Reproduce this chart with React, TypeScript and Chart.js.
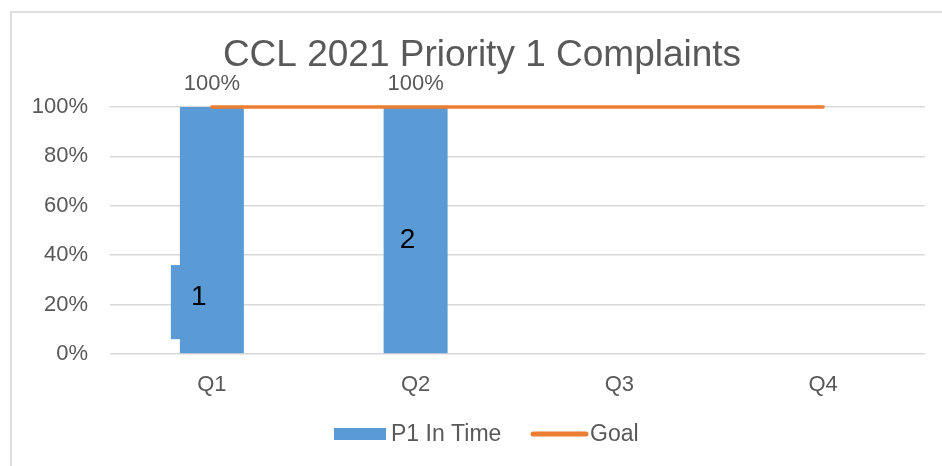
import React, { useEffect, useRef } from 'react';
import { Chart, registerables } from 'chart.js';

Chart.register(...registerables);

const categories = ['Q1', 'Q2', 'Q3', 'Q4'];
const inTimePct: (number | null)[] = [100, 100, null, null];
const goalPct = [100, 100, 100, 100];
const valueLabels: (string | null)[] = ['100%', '100%', null, null];
const countLabels: (string | null)[] = ['1', '2', null, null];
const countLabelY: (number | null)[] = [23, 46, null, null];
const countBoxTop = 36;
const countBoxBottom = 6;
const titleText = 'CCL 2021 Priority 1 Complaints';
const seriesNames = ['P1 In Time', 'Goal'];

const BLUE = '#5B9BD5';
const ORANGE = '#ED7D31';
const GREY = '#595959';
const FONT = '"Liberation Sans", Arial, sans-serif';

const overlayPlugin = {
  id: 'overlay',
  afterDatasetsDraw(chart: any) {
    const ctx = chart.ctx as CanvasRenderingContext2D;
    const y = chart.scales.y;
    const barMeta = chart.getDatasetMeta(1);
    ctx.save();
    // value labels above bars
    ctx.fillStyle = GREY;
    ctx.font = `22px ${FONT}`;
    ctx.textAlign = 'center';
    ctx.textBaseline = 'alphabetic';
    barMeta.data.forEach((el: any, i: number) => {
      const lbl = valueLabels[i];
      if (lbl && inTimePct[i] != null) ctx.fillText(lbl, el.x, el.y - 17);
    });
    // count text boxes
    countLabels.forEach((lbl, i) => {
      const v = countLabelY[i];
      if (!lbl || v == null) return;
      const el = barMeta.data[i];
      const offset = i === 0 ? -13 : -8;
      const cx = el.x + offset;
      if (i === 0) {
        const t = y.getPixelForValue(countBoxTop);
        const b = y.getPixelForValue(countBoxBottom);
        ctx.fillStyle = BLUE;
        ctx.fillRect(cx - 28, t, 56, b - t);
      }
      ctx.fillStyle = '#000000';
      ctx.font = `28px ${FONT}`;
      ctx.textAlign = 'center';
      ctx.textBaseline = 'middle';
      ctx.fillText(lbl, cx, y.getPixelForValue(v));
    });
    ctx.restore();
  },
  afterDraw(chart: any) {
    const ctx = chart.ctx as CanvasRenderingContext2D;
    ctx.save();
    // title
    ctx.fillStyle = GREY;
    ctx.font = `37px ${FONT}`;
    ctx.textAlign = 'center';
    ctx.textBaseline = 'alphabetic';
    ctx.fillText(titleText, 482, 66);
    // legend
    const ly = 434;
    ctx.fillStyle = chart.data.datasets[1].backgroundColor;
    ctx.fillRect(334, ly - 6, 52, 12);
    ctx.fillStyle = GREY;
    ctx.font = `23px ${FONT}`;
    ctx.textAlign = 'left';
    ctx.textBaseline = 'middle';
    ctx.fillText(seriesNames[0], 391, ly + 1);
    ctx.strokeStyle = chart.data.datasets[0].borderColor;
    ctx.lineWidth = 5;
    ctx.lineCap = 'round';
    ctx.beginPath();
    ctx.moveTo(533, ly);
    ctx.lineTo(586, ly);
    ctx.stroke();
    ctx.fillText(seriesNames[1], 590, ly + 1);
    ctx.restore();
  },
};

export default function App() {
  const ref = useRef<HTMLCanvasElement | null>(null);
  useEffect(() => {
    if (!ref.current) return;
    const chart = new Chart(ref.current, {
      type: 'bar',
      data: {
        labels: categories,
        datasets: [
          {
            type: 'line',
            label: seriesNames[1],
            data: goalPct,
            borderColor: ORANGE,
            backgroundColor: ORANGE,
            borderWidth: 3.5,
            borderCapStyle: 'round',
            pointRadius: 0,
            clip: false,
            order: 1,
          } as any,
          {
            type: 'bar',
            label: seriesNames[0],
            data: inTimePct,
            backgroundColor: BLUE,
            borderWidth: 0,
            barPercentage: 0.314,
            categoryPercentage: 1,
            order: 2,
          } as any,
        ],
      },
      options: {
        responsive: false,
        animation: false,
        layout: { padding: { top: 107, right: 17, left: 0, bottom: 0 } },
        plugins: {
          legend: { display: false },
          title: { display: false },
          tooltip: { enabled: false },
        },
        scales: {
          x: {
            grid: { display: false, drawTicks: false },
            border: { display: false },
            ticks: { color: GREY, font: { size: 22, family: FONT }, padding: 18 },
            afterFit(scale: any) { scale.height = 112; },
          },
          y: {
            min: 0,
            max: 100,
            grid: { color: '#d9d9d9', lineWidth: 1.5, drawTicks: false },
            border: { display: false },
            ticks: {
              stepSize: 20,
              color: GREY,
              font: { size: 22, family: FONT },
              padding: 22,
              callback: (v: any) => `${v}%`,
            },
            afterFit(scale: any) { scale.width = 110; },
          },
        },
      },
      plugins: [overlayPlugin],
    });
    return () => chart.destroy();
  }, []);

  return (
    <div style={{ position: 'fixed', left: 0, top: 0, width: 942, height: 466, background: '#fff', overflow: 'hidden' }}>
      <div style={{ position: 'absolute', left: 10, top: 11, width: 1000, height: 1000, border: '2px solid #dedede', boxSizing: 'border-box' }} />
      <canvas ref={ref} width={942} height={466} style={{ position: 'absolute', left: 0, top: 0, width: 942, height: 466 }} />
    </div>
  );
}
